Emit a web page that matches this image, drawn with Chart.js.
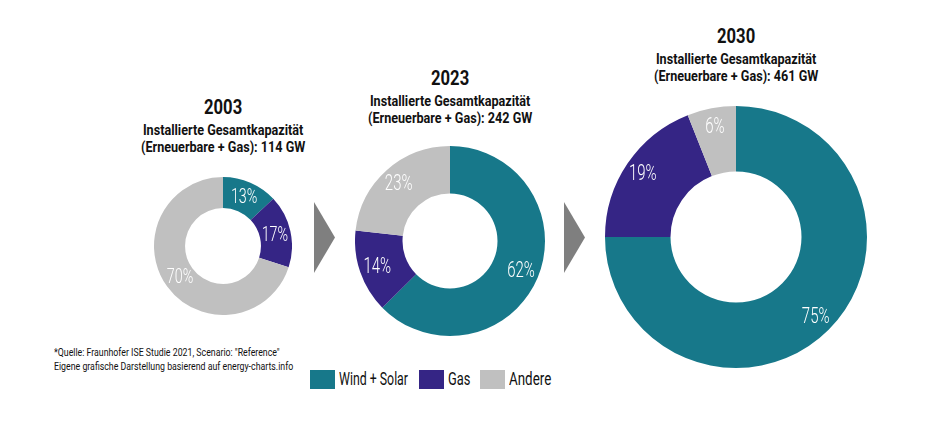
<!DOCTYPE html>
<html>
<head>
<meta charset="utf-8">
<script src="https://cdn.jsdelivr.net/npm/chart.js@4"></script>
<style>
  body { margin: 0; background: #fff; width: 936px; height: 432px; position: relative; overflow: hidden;
         font-family: Roboto, "DejaVu Sans Condensed", sans-serif; color: #111; }
  .box { position: absolute; }
  .fit { display: inline-block; white-space: nowrap; }
  .title { position: absolute; width: 260px; text-align: center; }
  .title .year { font-size: 21px; font-weight: 700; line-height: 24px; transform-origin: center; }
  .title .sub { font-size: 14px; font-weight: 700; line-height: 17px; margin-top: 3px; transform-origin: center; }
  .arrow { position: absolute; width: 21px; height: 71px; background: #7f7f7f;
           clip-path: polygon(0 0, 100% 50%, 0 100%); }
  .note { position: absolute; left: 54px; top: 346px; font-size: 10.5px; line-height: 14px; color: #111;
          transform-origin: left top; }
  .sw { position: absolute; width: 25px; height: 19px; top: 370px; }
  .lb { position: absolute; top: 368px; font-size: 17.5px; font-weight: 400; line-height: 22px; color: #111;
        transform-origin: left center; }
</style>
</head>
<body>
<div id="titles"></div>
<div class="arrow" style="left:314px; top:202px;"></div>
<div class="arrow" style="left:564px; top:202px;"></div>
<div class="note fit" data-w="239">*Quelle: Fraunhofer ISE Studie 2021, Scenario: "Reference"<br>Eigene grafische Darstellung basierend auf energy-charts.info</div>
<div id="legend"></div>

<div class="box" style="left:154px; top:177px; width:138px; height:138px;"><canvas id="c2003"></canvas></div>
<div class="box" style="left:355px; top:146px; width:190px; height:190px;"><canvas id="c2023"></canvas></div>
<div class="box" style="left:605px; top:106px; width:262px; height:262px;"><canvas id="c2030"></canvas></div>

<script>
const years = ["2003", "2023", "2030"];
const totalsGW = [114, 242, 461];
const categories = ["Wind + Solar", "Gas", "Andere"];
const share2003 = [13, 17, 70];
const share2023 = [62, 14, 23];
const share2030 = [75, 19, 6];

const colors = ["#17788a", "#352585", "#c0c0c0"];

// titles above each doughnut
const titleSpots = [
  { cx: 223, top: 95 },
  { cx: 450, top: 66 },
  { cx: 736, top: 24 },
];
const titlesDiv = document.getElementById("titles");
years.forEach((y, i) => {
  const d = document.createElement("div");
  d.className = "title";
  d.style.left = (titleSpots[i].cx - 130) + "px";
  d.style.top = titleSpots[i].top + "px";
  d.innerHTML = '<div class="year fit" data-w="38">' + y + '</div><br>' +
    '<div class="sub fit" data-w="164">Installierte Gesamtkapazität<br>(Erneuerbare + Gas): ' + totalsGW[i] + ' GW</div>';
  titlesDiv.appendChild(d);
});

// legend
const legendSpots = [
  { box: 310, text: 339, w: 69 },
  { box: 419, text: 448, w: 22 },
  { box: 480, text: 509, w: 42 },
];
const legendDiv = document.getElementById("legend");
categories.forEach((c, i) => {
  legendDiv.innerHTML += '<div class="sw" style="left:' + legendSpots[i].box + 'px; background:' + colors[i] + '"></div>' +
    '<div class="lb fit" data-w="' + legendSpots[i].w + '" style="left:' + legendSpots[i].text + 'px">' + c + '</div>';
});

// squeeze text to the narrow look of the original
function fitText() {
  document.querySelectorAll(".fit").forEach((el) => {
    const target = parseFloat(el.dataset.w);
    const natural = el.offsetWidth;
    if (natural > 0) el.style.transform = "scaleX(" + (target / natural) + ")";
  });
}

// percentage labels inside the ring
const ringLabels = {
  id: "ringLabels",
  afterDatasetsDraw(chart, args, opts) {
    const ctx = chart.ctx;
    const meta = chart.getDatasetMeta(0);
    ctx.save();
    ctx.fillStyle = "#fff";
    ctx.font = "300 " + opts.fontSize + "px Roboto, sans-serif";
    ctx.textAlign = "center";
    ctx.textBaseline = "middle";
    meta.data.forEach((arc, i) => {
      const p = arc.getProps(["x", "y", "startAngle", "endAngle", "outerRadius"], true);
      const mid = (p.startAngle + p.endAngle) / 2;
      const r = p.outerRadius * opts.radiusFactor;
      ctx.save();
      ctx.translate(p.x + Math.cos(mid) * r, p.y + Math.sin(mid) * r);
      ctx.scale(0.68, 1);
      ctx.fillText(chart.data.datasets[0].data[i] + "%", 0, 1);
      ctx.restore();
    });
    ctx.restore();
  },
};

function makeDonut(id, values, cutout, radiusFactor, fontSize) {
  new Chart(document.getElementById(id), {
    type: "doughnut",
    data: {
      labels: categories,
      datasets: [{ data: values, backgroundColor: colors, borderWidth: 0 }],
    },
    options: {
      responsive: true,
      maintainAspectRatio: false,
      animation: false,
      cutout: cutout,
      layout: { padding: 0 },
      plugins: {
        legend: { display: false },
        tooltip: { enabled: false },
        ringLabels: { radiusFactor: radiusFactor, fontSize: fontSize },
      },
    },
    plugins: [ringLabels],
  });
}

document.fonts.ready.then(() => {
  fitText();
  makeDonut("c2003", share2003, "55%", 0.77, 21);
  makeDonut("c2023", share2023, "50%", 0.81, 22);
  makeDonut("c2030", share2030, "50%", 0.86, 22);
});
</script>
</body>
</html>
